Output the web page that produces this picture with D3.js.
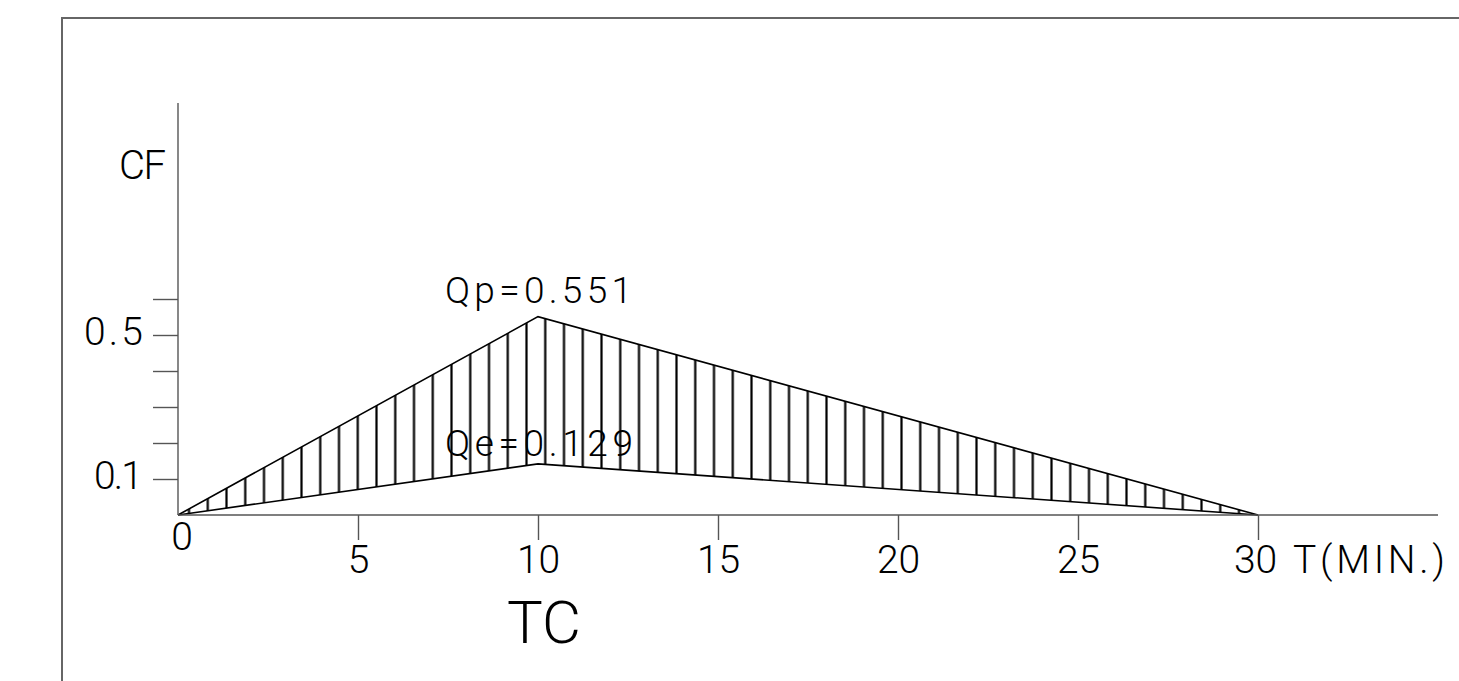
<!DOCTYPE html>
<html>
<head>
<meta charset="utf-8">
<script src="https://cdn.jsdelivr.net/npm/d3@7"></script>
<style>
  body { margin: 0; background: #fff; }
  text { font-family: Roboto, "Liberation Sans", sans-serif; font-weight: 300; fill: #000; }
</style>
</head>
<body>
<svg id="chart" width="1459" height="681"></svg>
<script>
// hydrograph corners (minutes) and the two curves
var times = [0, 10, 30];
var qpValues = [0, 0.551, 0];
var qeValues = [0, 0.142, 0];

var xTicks = [5, 10, 15, 20, 25, 30];
var yTicks = [0.1, 0.2, 0.3, 0.4, 0.5, 0.6];
var yLabelled = [0.1, 0.5];

var qpLabel = "Qp=0.551";
var qeLabel = "Qe=0.129";

var svg = d3.select("#chart");

var x = d3.scaleLinear().domain([0, 30]).range([178, 1258]);
var y = d3.scaleLinear().domain([0, 0.6]).range([515, 299]);

// frame
svg.append("line")
  .attr("x1", 62).attr("y1", 18).attr("x2", 1459).attr("y2", 18)
  .style("stroke", "#666").style("stroke-width", 2);
svg.append("line")
  .attr("x1", 62).attr("y1", 17).attr("x2", 62).attr("y2", 681)
  .style("stroke", "#666").style("stroke-width", 2);

// hatch pattern
var hatchStep = 18.75;
var defs = svg.append("defs");
var pat = defs.append("pattern")
  .attr("id", "hatch")
  .attr("patternUnits", "userSpaceOnUse")
  .attr("x", 189 - hatchStep / 2)
  .attr("y", 0)
  .attr("width", hatchStep)
  .attr("height", 20);
pat.append("rect")
  .attr("x", hatchStep / 2 - 1.1)
  .attr("y", 0)
  .attr("width", 2.2)
  .attr("height", 20)
  .style("fill", "#000");

var pts = times.map(function(t, i) {
  return { t: t, hi: qpValues[i], lo: qeValues[i] };
});

var area = d3.area()
  .x(function(d) { return x(d.t); })
  .y0(function(d) { return y(d.lo); })
  .y1(function(d) { return y(d.hi); });

svg.append("path")
  .datum(pts)
  .attr("d", area)
  .style("fill", "url(#hatch)");

var lineHi = d3.line()
  .x(function(d) { return x(d.t); })
  .y(function(d) { return y(d.hi); });
var lineLo = d3.line()
  .x(function(d) { return x(d.t); })
  .y(function(d) { return y(d.lo); });

svg.append("path").datum(pts).attr("d", lineHi)
  .style("fill", "none").style("stroke", "#000").style("stroke-width", 1.6);
svg.append("path").datum(pts).attr("d", lineLo)
  .style("fill", "none").style("stroke", "#000").style("stroke-width", 1.6);

// axes lines
svg.append("line")
  .attr("x1", x(0)).attr("y1", y(0)).attr("x2", x(35)).attr("y2", y(0))
  .style("stroke", "#555").style("stroke-width", 1.4);
svg.append("line")
  .attr("x1", x(0)).attr("y1", y(0)).attr("x2", x(0)).attr("y2", 103)
  .style("stroke", "#555").style("stroke-width", 1.4);

var xAxis = d3.axisBottom(x)
  .tickValues(xTicks)
  .tickSize(25)
  .tickPadding(5)
  .tickFormat(d3.format("d"));

var gx = svg.append("g")
  .attr("transform", "translate(0," + y(0) + ")")
  .call(xAxis);
gx.select(".domain").remove();
gx.selectAll(".tick line").style("stroke", "#555").style("stroke-width", 1.4);
gx.selectAll(".tick text")
  .attr("font-size", 39)
  .attr("font-family", null)
  .attr("dx", function(d) { return d == 30 ? -3 : 0; });

var yAxis = d3.axisLeft(y)
  .tickValues(yTicks)
  .tickSize(25)
  .tickPadding(10)
  .tickFormat(function(d) { return yLabelled.indexOf(d) >= 0 ? d3.format(".1f")(d) : ""; });

var gy = svg.append("g")
  .attr("transform", "translate(" + x(0) + ",0)")
  .call(yAxis);
gy.select(".domain").remove();
gy.selectAll(".tick line").style("stroke", "#555").style("stroke-width", 1.4);
gy.selectAll(".tick text")
  .attr("font-size", 39)
  .attr("font-family", null)
  .attr("dy", "0.25em")
  .attr("textLength", function(d) { return d == 0.5 ? 59 : (d == 0.1 ? 49 : null); });

// other labels
svg.append("text")
  .attr("x", 182).attr("y", 550)
  .attr("text-anchor", "middle")
  .attr("font-size", 39)
  .text("0");

svg.append("text")
  .attr("x", 119).attr("y", 179)
  .attr("font-size", 40)
  .attr("textLength", 47)
  .text("CF");

svg.append("text")
  .attr("x", 1293).attr("y", 573)
  .attr("font-size", 39)
  .attr("textLength", 152)
  .text("T(MIN.)");

svg.append("text")
  .attr("x", 445).attr("y", 303)
  .attr("font-size", 37)
  .attr("textLength", 187)
  .text(qpLabel);

svg.append("text")
  .attr("x", 445).attr("y", 456)
  .attr("font-size", 37)
  .attr("textLength", 188)
  .text(qeLabel);

svg.append("text")
  .attr("x", 544).attr("y", 643)
  .attr("text-anchor", "middle")
  .attr("font-size", 60)
  .text("TC");
</script>
</body>
</html>
